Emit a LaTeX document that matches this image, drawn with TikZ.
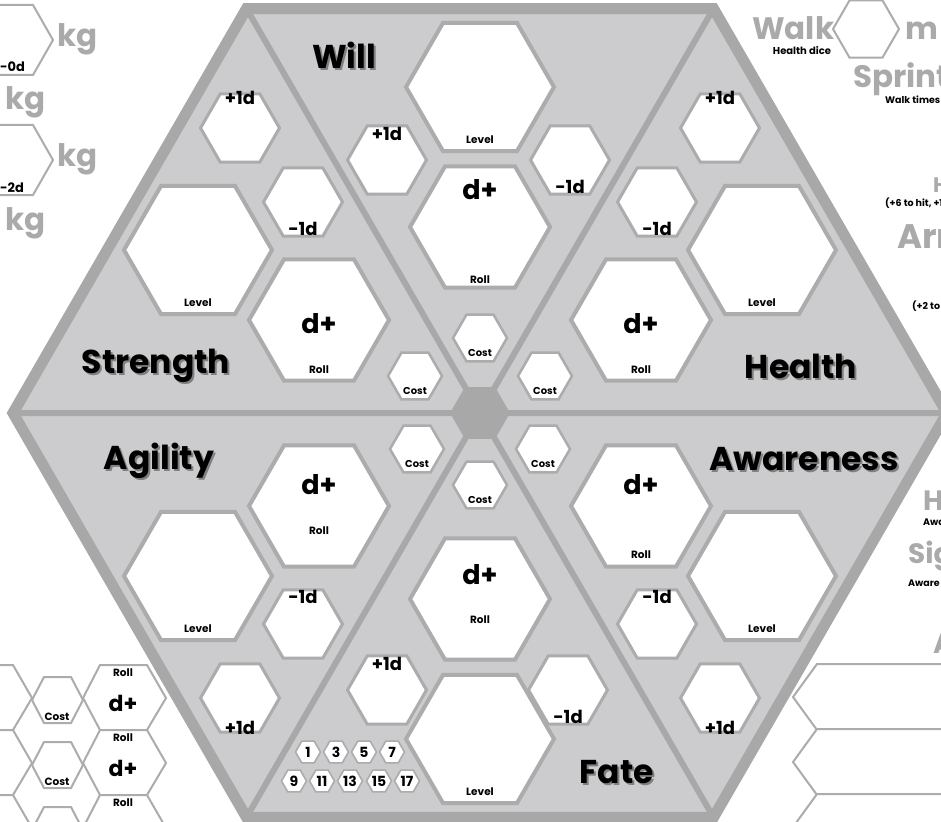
\documentclass[tikz,border=0pt]{standalone}
\usepackage{fontspec}
\setmainfont{Poppins}
\usetikzlibrary{shapes.geometric}
\definecolor{fillgray}{RGB}{204,203,205}
\definecolor{bordergray}{RGB}{168,168,168}
\definecolor{hexgray}{RGB}{172,172,172}
\definecolor{txtgray}{RGB}{170,170,170}
\definecolor{shadowgray}{RGB}{128,128,128}
\begin{document}
\begin{tikzpicture}[x=1pt,y=-1pt,
  hexa/.style={regular polygon, regular polygon sides=6, inner sep=0pt, outer sep=0pt, draw=hexgray, fill=white},
  hexlevel/.style={hexa, minimum size=148pt, line width=4pt},
  hexroll/.style={hexa, minimum size=140pt, line width=4pt},
  hexmod/.style={hexa, minimum size=79pt, line width=3pt},
  hexcost/.style={hexa, minimum size=54pt, line width=2.5pt},
  hexnum/.style={hexa, minimum size=25pt, line width=1.6pt},
  numtxt/.style={font=\bfseries\fontsize{14}{14}\selectfont, inner sep=0pt},
  smalltxt/.style={font=\bfseries\fontsize{10.5}{11}\selectfont, inner sep=0pt},
  tinytxt/.style={font=\bfseries\fontsize{9.5}{10}\selectfont, inner sep=0pt, anchor=base west},
  modtxt/.style={font=\bfseries\fontsize{18}{18}\selectfont, inner sep=0pt},
  dtxt/.style={font=\bfseries\fontsize{27}{27}\selectfont, inner sep=0pt},
  ttl/.style={font=\bfseries\fontsize{33}{33}\selectfont, inner sep=0pt},
  ttlshadow/.style={ttl, text=shadowgray},
  graytxt/.style={font=\bfseries\fontsize{31}{31}\selectfont, text=txtgray, inner sep=0pt, anchor=base west},
  boxline/.style={draw=hexgray, line width=2pt, fill=white, line join=miter},
]
\path[use as bounding box, clip] (0,0) rectangle (941,821);
\fill[white] (0,0) rectangle (941,821);

% ---------- outside left: weight hexes ----------
\draw[boxline] (53,40) -- (33,5) -- (-7,5) -- (-27,40) -- (-7,75) -- (33,75) -- cycle;
\draw[boxline] (53,160) -- (33,125) -- (-7,125) -- (-27,160) -- (-7,195) -- (33,195) -- cycle;
\node[font=\bfseries\fontsize{13}{13}\selectfont, inner sep=0pt, anchor=base west] (w0) at (0,72) {-0d};
\node[font=\bfseries\fontsize{13}{13}\selectfont, inner sep=0pt, anchor=base west] (w2) at (0,192) {-2d};
\node[graytxt] (kga) at (57,47) {kg};
\node[graytxt] (kgb) at (5,110) {kg};
\node[graytxt] (kgc) at (57,167) {kg};
\node[graytxt] (kgd) at (5,230) {kg};

% ---------- outside bottom-left: roll/cost chain ----------
\foreach \dy [count=\k] in {0,65,130} {
  \draw[boxline] (-40,665+\dy) -- (13,665+\dy) -- (32,698+\dy) -- (13,730+\dy) -- (-40,730+\dy);
  \draw[boxline] (32,700+\dy) -- (44,677+\dy) -- (71,677+\dy) -- (83,700+\dy) -- (71,723+\dy) -- (44,723+\dy) -- cycle;
  \draw[boxline] (83,698+\dy) -- (100,665+\dy) -- (147,665+\dy) -- (166,698+\dy) -- (147,730+\dy) -- (100,730+\dy) -- cycle;
  \node[smalltxt] (blroll\k) at (123,673+\dy) {Roll};
  \node[font=\bfseries\fontsize{22}{22}\selectfont, inner sep=0pt] (bld\k) at (123,703+\dy) {d+};
  \node[smalltxt] (blcost\k) at (57,717+\dy) {Cost};
}

% ---------- outside right ----------
\node[hexa, minimum size=66pt, line width=2pt] (walkhex) at (866,29) {};
\node[graytxt] (walk) at (752,40) {Walk};
\node[smalltxt, font=\bfseries\fontsize{10}{10}\selectfont] (hdice) at (802,51) {Health dice};
\node[graytxt] (mtxt) at (905,40) {m};
\node[graytxt] (sprint) at (853,88) {Sprint};
\node[tinytxt] (wtimes) at (885,104) {Walk times};
\node[graytxt, font=\bfseries\fontsize{21}{21}\selectfont] (hA) at (933,193) {H};
\node[tinytxt] (hitA) at (885,206) {(+6 to hit, +1};
\node[graytxt, font=\bfseries\fontsize{34}{34}\selectfont] (arr) at (897,248) {Arr};
\node[tinytxt] (twoA) at (912,309) {(+2 to};
\node[graytxt, font=\bfseries\fontsize{28}{28}\selectfont] (hB) at (923,510) {H};
\node[tinytxt] (awa) at (923,525) {Awa};
\node[graytxt, font=\bfseries\fontsize{28}{28}\selectfont] (sig) at (908,563) {Sig};
\node[tinytxt] (aware) at (908,586) {Aware};
\node[graytxt, font=\bfseries\fontsize{28}{28}\selectfont] (aB) at (933,653) {A};
\foreach \dy in {0,65,130} {
  \draw[boxline] (960,664+\dy) -- (817,664+\dy) -- (793,697+\dy) -- (817,730+\dy) -- (960,730+\dy);
}

% ---------- main hexagon ----------
\coordinate (V0) at (947,413);
\coordinate (V60) at (713.5,8.6);
\coordinate (V120) at (246.5,8.6);
\coordinate (V180) at (13,413);
\coordinate (V240) at (246.5,817.4);
\coordinate (V300) at (713.5,817.4);
\fill[fillgray] (V0) -- (V60) -- (V120) -- (V180) -- (V240) -- (V300) -- cycle;
\draw[bordergray, line width=6pt] (V0) -- (V180) (V60) -- (V240) (V120) -- (V300);
\draw[bordergray, line width=11pt, line join=miter] (V0) -- (V60) -- (V120) -- (V180) -- (V240) -- (V300) -- cycle;
\node[regular polygon, regular polygon sides=6, minimum size=60pt, inner sep=0pt, fill=bordergray] (ctr) at (480,413) {};

% Level hexes
\foreach \nm/\x/\y in {L1/480/87, L2/198/250, L3/762/250, L4/198/576, L5/762/576, L6/480/739} {
  \node[hexlevel] (\nm) at (\x,\y) {};
  \node[smalltxt] (\nm t) at (\x,\y+53) {Level};
}
% Roll hexes (hex centre, d+ label y, Roll label y)
\foreach \nm/\x/\y/\dy/\ry in {R1/480/227/190/280, R2/319/320/324/370, R3/641/320/324/370, R4/319/506/485/531, R5/641/506/485/555, R6/480/599/575/620} {
  \node[hexroll] (\nm) at (\x,\y) {};
  \node[dtxt] (\nm d) at (\x,\dy) {d+};
  \node[smalltxt] (\nm t) at (\x,\ry) {Roll};
}
% Cost hexes
\foreach \nm/\x/\y in {C1/480/338, C2/415/376, C3/545/376, C4/417/449, C5/543/449, C6/480/485} {
  \node[hexcost] (\nm) at (\x,\y) {};
  \node[smalltxt, font=\bfseries\fontsize{10}{10}\selectfont] (\nm t) at (\x,\y+15) {Cost};
}
% modifier hexes
\foreach \nm/\x/\y/\off/\txt in {P1/387/160/-26/+1d, M1/570/160/27/-1d, P2/240/128/-30/+1d, M2/303/202/27/-1d,
  P3/720/128/-30/+1d, M3/657/202/27/-1d, P4/240/698/30/+1d, M4/303/624/-27/-1d,
  P5/720/698/30/+1d, M5/657/624/-27/-1d, P6/387/690/-26/+1d, M6/568/690/27/-1d} {
  \node[hexmod] (\nm) at (\x,\y) {};
  \node[modtxt] (\nm t) at (\x,\y+\off) {\txt};
}
% number hexes
\foreach \n/\x/\y in {1/308/752, 3/336/752, 5/364/752, 7/392/752, 9/294/781, 11/322/781, 13/350/781, 15/379/781, 17/407/781} {
  \node[hexnum] (N\n) at (\x,\y) {};
  \node[numtxt] (N\n t) at (\x,\y) {\n};
}

% titles
\foreach \nm/\x/\y/\txt in {Twill/344/55/Will, Tstr/156/366/Strength, Thea/801/366/Health, Tagi/159/461/Agility, Tawa/804/459/Awareness, Tfate/617/772/Fate} {
  \node[ttlshadow] (\nm s) at (\x+2,\y+2) {\txt};
  \node[ttl] (\nm) at (\x,\y) {\txt};
}
\end{tikzpicture}
\end{document}
